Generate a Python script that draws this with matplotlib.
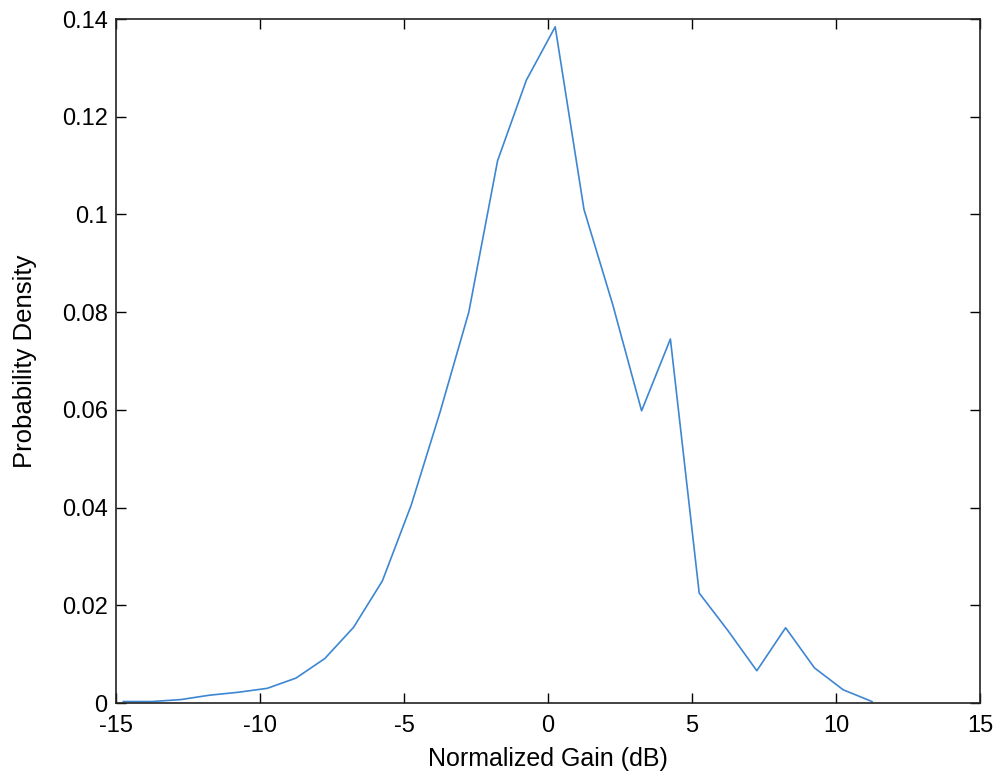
import matplotlib
matplotlib.use('Agg')
import matplotlib.pyplot as plt

plt.rcParams['font.family'] = ['Liberation Sans', 'DejaVu Sans']
plt.rcParams['axes.unicode_minus'] = False

# bin centres (dB) and estimated density
gain_db = [-14.75, -13.75, -12.75, -11.75, -10.75, -9.75, -8.75, -7.75,
           -6.75, -5.75, -4.75, -3.75, -2.75, -1.75, -0.75, 0.25,
           1.25, 2.25, 3.25, 4.25, 5.25, 6.25, 7.25, 8.25,
           9.25, 10.25, 11.25]
density = [0.0003, 0.0003, 0.0007, 0.0016, 0.0022, 0.0030, 0.0051, 0.0091,
           0.0155, 0.0250, 0.0405, 0.0595, 0.0800, 0.1110, 0.1275, 0.1384,
           0.1010, 0.0815, 0.0598, 0.0745, 0.0225, 0.0148, 0.0066, 0.0154,
           0.0072, 0.0027, 0.0003]

xticks = [-15, -10, -5, 0, 5, 10, 15]
yticks = [0, 0.02, 0.04, 0.06, 0.08, 0.1, 0.12, 0.14]
ytick_labels = ['0', '0.02', '0.04', '0.06', '0.08', '0.1', '0.12', '0.14']

fig = plt.figure(figsize=(9.99, 7.78), dpi=100)
ax = fig.add_axes([116 / 999, 75 / 778, 864 / 999, 684 / 778])

ax.plot(gain_db, density, color='#3d86d2', linewidth=1.2)

ax.set_xlim(-15, 15)
ax.set_ylim(0, 0.14)
ax.set_xticks(xticks)
ax.set_yticks(yticks)
ax.set_yticklabels(ytick_labels)

ax.tick_params(direction='in', length=7, width=1, top=True, right=True,
               labelsize=17, colors='black')
ax.tick_params(axis='x', pad=9)
ax.tick_params(axis='y', pad=6)
for s in ax.spines.values():
    s.set_linewidth(1.2)
    s.set_color('#222222')

ax.set_xlabel('Normalized Gain (dB)', fontsize=18, va='center')
ax.set_ylabel('Probability Density', fontsize=18.5, va='center', ha='center')
ax.xaxis.set_label_coords(0.5, (703 - 759) / 684)
ax.yaxis.set_label_coords((25 - 116) / 864, 0.5)

fig.savefig('out.png', dpi=100, facecolor='white')
